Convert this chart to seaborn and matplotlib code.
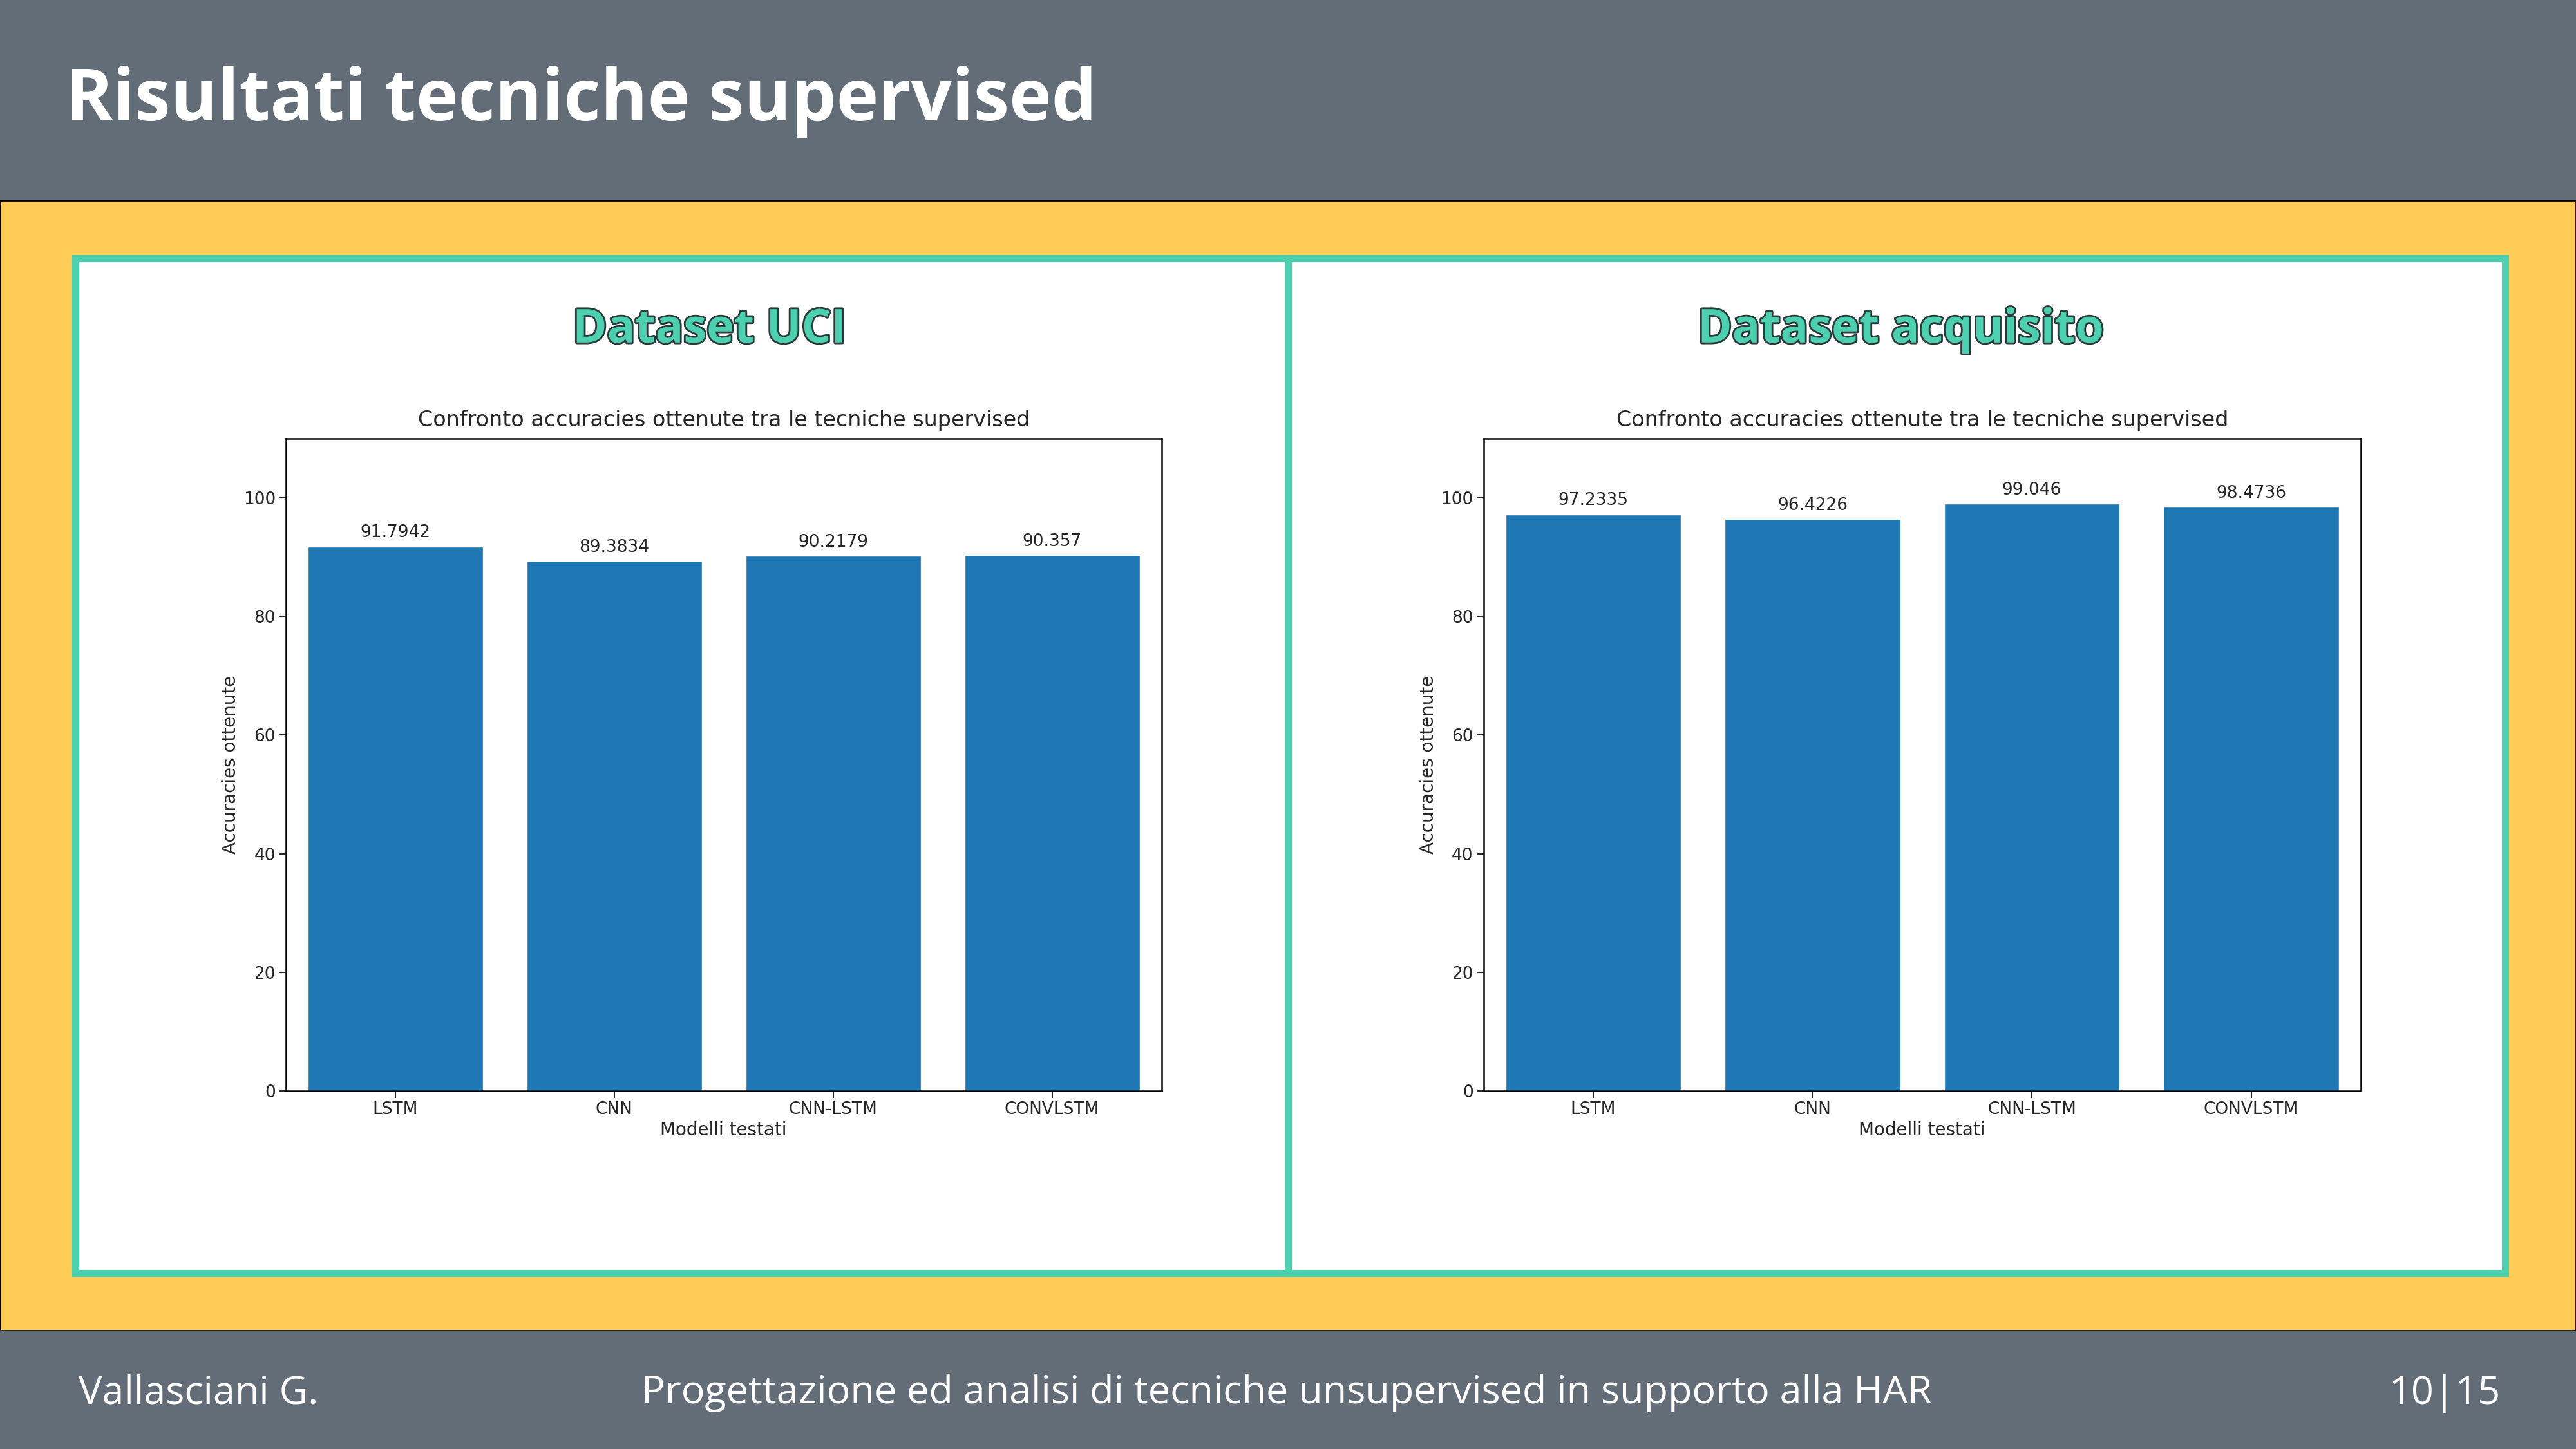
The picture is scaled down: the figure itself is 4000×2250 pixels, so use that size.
import matplotlib
matplotlib.use("Agg")
import matplotlib.pyplot as plt
import matplotlib.patheffects as pe
from matplotlib.patches import Rectangle
import seaborn as sns
import pandas as pd

models = ["LSTM", "CNN", "CNN-LSTM", "CONVLSTM"]
uci_acc = [91.7942, 89.3834, 90.2179, 90.357]
acq_acc = [97.2335, 96.4226, 99.046, 98.4736]
uci_labels = ["91.7942", "89.3834", "90.2179", "90.357"]
acq_labels = ["97.2335", "96.4226", "99.046", "98.4736"]

sns.set_style("white")
plt.rcParams['font.family'] = ['DejaVu Sans']

W, H = 1568, 882
fig = plt.figure(figsize=(40, 22.5), dpi=100)

def fx(x): return x / W
def fy(y): return 1 - y / H

fig.patches.append(Rectangle((0, fy(122)), 1, 122 / H, transform=fig.transFigure, color="#636d77", zorder=-2))
fig.patches.append(Rectangle((0, fy(810)), 1, (810 - 122) / H, transform=fig.transFigure, facecolor="#ffcd57", edgecolor="black", lw=2, zorder=-2))
fig.patches.append(Rectangle((0, 0), 1, (H - 810) / H, transform=fig.transFigure, color="#636d77", zorder=-2))
for x0, x1 in [(46, 784), (784, 1525)]:
    fig.patches.append(Rectangle((fx(x0), fy(775)), (x1 - x0) / W, (775 - 157) / H, transform=fig.transFigure,
                                 facecolor="white", edgecolor="#4dd0b0", lw=8, zorder=-1))

fig.text(fx(40), fy(62), "Risultati tecniche supervised", color="white", fontsize=80, fontweight="bold",
         family=["Open Sans", "DejaVu Sans"], va="center", ha="left")
fig.text(fx(48), fy(848), "Vallasciani G.", color="white", fontsize=44, family=["Open Sans"], va="center")
fig.text(fx(783), fy(848), "Progettazione ed analisi di tecniche unsupervised in supporto alla HAR", color="white",
         fontsize=44, family=["Open Sans"], va="center", ha="center")
fig.text(fx(1522), fy(848), "10|15", color="white", fontsize=44, family=["Open Sans"], va="center", ha="right")

for cx, t in [(432, "Dataset UCI"), (1157, "Dataset acquisito")]:
    fig.text(fx(cx), fy(201), t, color="#4dd0b0", fontsize=52, fontweight="bold", family=["Open Sans"],
             ha="center", va="center",
             path_effects=[pe.withStroke(linewidth=4, foreground="#2a3a3a")])

for (l, r), vals, labs in [((174, 707), uci_acc, uci_labels), ((903, 1437), acq_acc, acq_labels)]:
    ax = fig.add_axes([fx(l), fy(664), (r - l) / W, (664 - 267) / H])
    ax.set_zorder(2)
    df = pd.DataFrame({"m": models, "v": vals})
    sns.barplot(data=df, x="m", y="v", color="#1f77b4", saturation=1, width=0.8, ax=ax)
    ax.bar_label(ax.containers[0], labels=labs, fontsize=19, padding=6)
    ax.set_ylim(0, 110)
    ax.set_yticks([0, 20, 40, 60, 80, 100])
    ax.set_title("Confronto accuracies ottenute tra le tecniche supervised", fontsize=24, pad=14)
    ax.set_xlabel("Modelli testati", fontsize=20)
    ax.set_ylabel("Accuracies ottenute", fontsize=20)
    ax.tick_params(labelsize=19, length=8, width=1.5, left=True, bottom=True)
    for s in ax.spines.values():
        s.set_color("black"); s.set_linewidth(1.8)

fig.savefig("out.png", dpi=100)
